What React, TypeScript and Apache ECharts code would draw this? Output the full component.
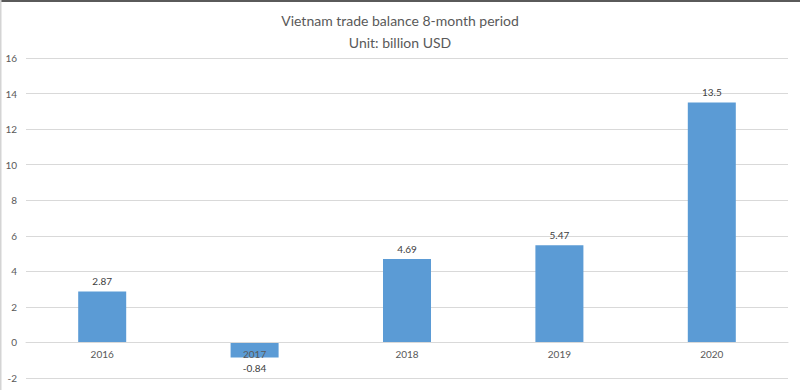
import React, { useEffect, useRef } from "react";
import * as echarts from "echarts";

const categories = ["2016", "2017", "2018", "2019", "2020"];
const values = [2.87, -0.84, 4.69, 5.47, 13.5];
const titleLines = ["Vietnam trade balance 8-month period", "Unit: billion USD"];
const yMin = -2;
const yMax = 16;
const yInterval = 2;

export default function App() {
  const ref = useRef<HTMLDivElement>(null);
  useEffect(() => {
    if (!ref.current) return;
    const chart = echarts.init(ref.current, null, { renderer: "svg" });
    const font = "Lato, 'Liberation Sans', sans-serif";
    const gridTop = 58;
    const gridBottom = 12;
    const plotH = 390 - gridTop - gridBottom;
    const zeroOffset = -(plotH * (0 - yMin)) / (yMax - yMin);
    chart.setOption({
      animation: false,
      backgroundColor: "#ffffff",
      textStyle: { fontFamily: font },
      title: {
        text: titleLines.join("\n"),
        left: "center",
        top: 4,
        textStyle: {
          fontFamily: font,
          fontSize: 14,
          fontWeight: "normal",
          color: "#595959",
          lineHeight: 22,
        },
      },
      graphic: [
        { type: "rect", shape: { x: 0, y: 0, width: 800, height: 2 }, style: { fill: "#5a5a5a" } },
        { type: "rect", shape: { x: 0, y: 0, width: 1.5, height: 390 }, style: { fill: "#d4d4d4" } },
      ],
      grid: {
        left: 26,
        right: 12,
        top: gridTop,
        bottom: gridBottom,
        containLabel: false,
        outerBoundsMode: "none",
      },
      xAxis: {
        type: "category",
        data: categories,
        offset: zeroOffset,
        axisLine: { onZero: false, lineStyle: { color: "#d9d9d9", width: 1 } },
        axisTick: { show: false },
        axisLabel: { color: "#595959", fontSize: 10, margin: 7, fontFamily: font },
        z: 3,
      },
      yAxis: {
        type: "value",
        min: yMin,
        max: yMax,
        interval: yInterval,
        axisLine: { show: false },
        axisTick: { show: false },
        axisLabel: { color: "#595959", fontSize: 10, margin: 9, fontFamily: font },
        splitLine: { lineStyle: { color: "#d9d9d9", width: 1 } },
      },
      series: [
        {
          type: "bar",
          barWidth: "31.5%",
          itemStyle: { color: "#5b9bd5" },
          z: 2,
          data: values.map((v) => ({
            value: v,
            label: {
              show: true,
              position: v >= 0 ? "top" : "bottom",
              distance: v >= 0 ? 5 : 6,
              color: "#404040",
              fontSize: 10,
              fontFamily: font,
            },
          })),
        },
      ],
    });
    return () => chart.dispose();
  }, []);
  return (
    <div
      ref={ref}
      style={{ position: "fixed", left: 0, top: 0, width: 800, height: 390 }}
    />
  );
}
